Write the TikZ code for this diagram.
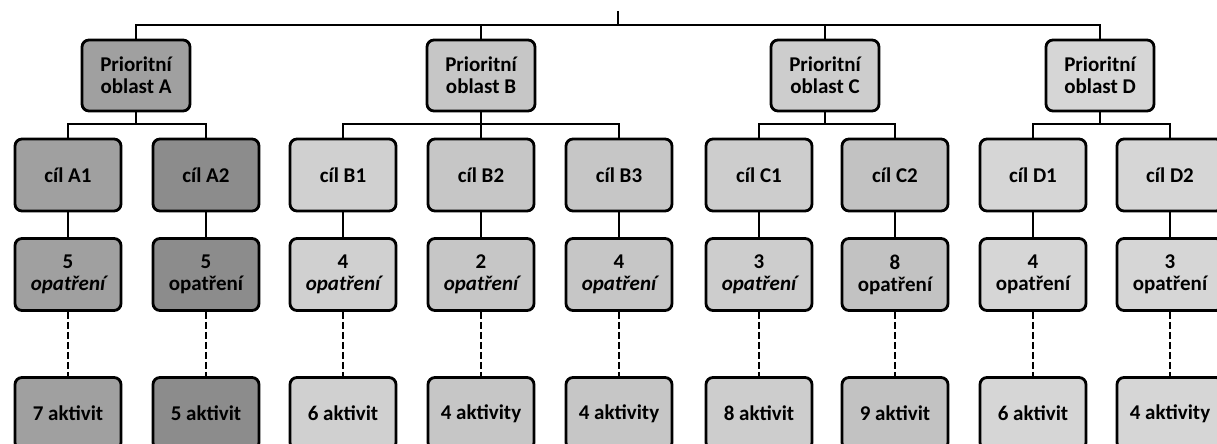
\documentclass[tikz,border=0pt]{standalone}
\usepackage{fontspec}
\setmainfont{Carlito}
\definecolor{cA}{HTML}{A0A0A0}
\definecolor{cAA}{HTML}{8C8C8C}
\definecolor{cB}{HTML}{C6C6C6}
\definecolor{cBB}{HTML}{D0D0D0}
\definecolor{cC}{HTML}{CDCDCD}
\definecolor{cCC}{HTML}{C2C2C2}
\definecolor{cD}{HTML}{D6D6D6}
\tikzset{
  box/.style={draw=black, line width=2.8pt, rounded corners=7pt, minimum width=106pt,
    minimum height=72pt, inner sep=0pt, align=center, text=black,
    font=\fontsize{21}{22}\selectfont\bfseries},
  pbox/.style={box, minimum width=108pt, minimum height=71pt},
  link/.style={draw=black, line width=2.2pt},
  dlink/.style={draw=black, line width=2.2pt, dash pattern=on 7pt off 3pt},
}
\begin{document}
\begin{tikzpicture}[x=1pt,y=-1pt]
\useasboundingbox (0,0) rectangle (1217,444);
\clip (0,0) rectangle (1217,444);
% priority areas
\node[pbox, fill=cA] (pA) at (136,75.5) {Prioritní\\oblast A};
\node[pbox, fill=cB] (pB) at (481,75.5) {Prioritní\\oblast B};
\node[pbox, fill=cC] (pC) at (825,75.5) {Prioritní\\oblast C};
\node[pbox, fill=cD] (pD) at (1100,75.5) {Prioritní\\oblast D};
% goals
\node[box, fill=cA] (gA1) at (68,175) {cíl A1};
\node[box, fill=cAA] (gA2) at (206,175) {cíl A2};
\node[box, fill=cBB] (gB1) at (343,175) {cíl B1};
\node[box, fill=cB] (gB2) at (481,175) {cíl B2};
\node[box, fill=cB] (gB3) at (619,175) {cíl B3};
\node[box, fill=cC] (gC1) at (759,175) {cíl C1};
\node[box, fill=cCC] (gC2) at (895,175) {cíl C2};
\node[box, fill=cD] (gD1) at (1033,175) {cíl D1};
\node[box, fill=cD] (gD2) at (1170,175) {cíl D2};
% measures
\node[box, fill=cA] (oA1) at (68,274.5) {5\\\itshape opatření};
\node[box, fill=cAA] (oA2) at (206,274.5) {5\\opatření};
\node[box, fill=cBB] (oB1) at (343,274.5) {4\\\itshape opatření};
\node[box, fill=cB] (oB2) at (481,274.5) {2\\\itshape opatření};
\node[box, fill=cB] (oB3) at (619,274.5) {4\\\itshape opatření};
\node[box, fill=cC] (oC1) at (759,274.5) {3\\\itshape opatření};
\node[box, fill=cCC] (oC2) at (895,274.5) {8\\opatření};
\node[box, fill=cD] (oD1) at (1033,274.5) {4\\opatření};
\node[box, fill=cD] (oD2) at (1170,274.5) {3\\opatření};
% activities
\node[box, fill=cA] (aA1) at (68,413.5) {7 aktivit};
\node[box, fill=cAA] (aA2) at (206,413.5) {5 aktivit};
\node[box, fill=cBB] (aB1) at (343,413.5) {6 aktivit};
\node[box, fill=cB] (aB2) at (481,413.5) {4 aktivity};
\node[box, fill=cB] (aB3) at (619,413.5) {4 aktivity};
\node[box, fill=cC] (aC1) at (759,413.5) {8 aktivit};
\node[box, fill=cCC] (aC2) at (895,413.5) {9 aktivit};
\node[box, fill=cD] (aD1) at (1033,413.5) {6 aktivit};
\node[box, fill=cD] (aD2) at (1170,413.5) {4 aktivity};
% top connectors
\coordinate (top) at (618,11);
\coordinate (bar) at (618,25);
\draw[link] (top) -- (bar);
\draw[link] (pA.north) |- (bar) -| (pD.north);
\draw[link] (bar) -| (pB.north);
\draw[link] (bar) -| (pC.north);
% level 2
\coordinate (jA) at (136,124);
\coordinate (jB) at (481,124);
\coordinate (jC) at (825,124);
\coordinate (jD) at (1100,124);
\draw[link] (pA.south) -- (jA);
\draw[link] (gA1.north) |- (jA) -| (gA2.north);
\draw[link] (pB.south) -- (gB2.north);
\draw[link] (gB1.north) |- (jB) -| (gB3.north);
\draw[link] (pC.south) -- (jC);
\draw[link] (gC1.north) |- (jC) -| (gC2.north);
\draw[link] (pD.south) -- (jD);
\draw[link] (gD1.north) |- (jD) -| (gD2.north);
% goal to measures, measures to activities
\foreach \n in {A1,A2,B1,B2,B3,C1,C2,D1,D2}{
  \draw[link] (g\n.south) -- (o\n.north);
  \draw[dlink] (o\n.south) -- (a\n.north);
}
\end{tikzpicture}
\end{document}
